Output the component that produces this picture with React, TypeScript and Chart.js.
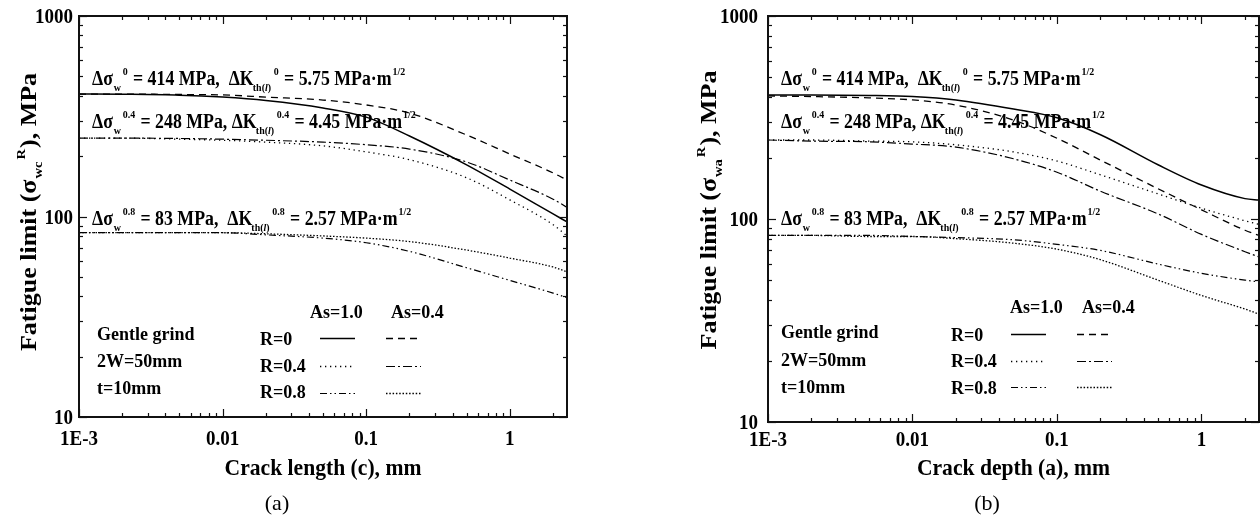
import React, { useEffect, useRef } from "react";
import { Chart, registerables } from "chart.js";

Chart.register(...registerables);

// ---------------- data ----------------
const crackSize = [0.001, 0.002, 0.005, 0.01, 0.02, 0.05, 0.1, 0.2, 0.5, 1, 2, 2.5];

// (a) crack length c
const lengthR0As10 = [408, 407, 403, 394, 379, 348, 313, 252, 181, 137, 103, 94];
const lengthR04As10 = [246, 246, 243, 240, 235, 225, 210, 192, 156, 121, 91, 80];
const lengthR08As10 = [83, 83, 83, 83, 81, 78, 74, 67, 55.5, 48, 41.5, 39.4];
const lengthR0As04 = [408, 408, 406, 404, 394, 381, 360, 328, 255, 205, 165, 152];
const lengthR04As04 = [246, 246, 245, 243, 240, 235, 228, 217, 187, 152, 122, 111];
const lengthR08As04 = [83, 83, 83, 83, 82, 80, 78, 75, 68, 62, 56, 53];

// (b) crack depth a
const depthR0As10 = [408, 408, 406, 401, 386, 348, 315, 260, 185, 147, 126, 124];
const depthR04As10 = [245, 245, 242, 240, 232, 214, 193, 165, 133, 113, 98, 94];
const depthR08As10 = [83, 83, 83, 82, 81, 79, 75, 70, 60, 54, 50, 49];
const depthR0As04 = [404, 401, 395, 386, 364, 307, 250, 195, 141, 111, 88, 83];
const depthR04As04 = [245, 242, 240, 234, 226, 198, 170, 137, 106, 84, 69, 65];
const depthR08As04 = [83, 83, 82, 82, 80, 76, 71, 63, 50, 42, 36, 34];

const xTickValues = [0.001, 0.01, 0.1, 1];
const xTickLabels = ["1E-3", "0.01", "0.1", "1"];
const yTickValues = [10, 100, 1000];
const yTickLabels = ["10", "100", "1000"];

const stressRatios = ["0", "0.4", "0.8"];
const fatigueLimits = ["414", "248", "83"];
const thresholds = ["5.75", "4.45", "2.57"];
const legendRows = ["R=0", "R=0.4", "R=0.8"];
const legendCols = ["As=1.0", "As=0.4"];
const conditionLines = ["Gentle grind", "2W=50mm", "t=10mm"];

// ---------------- styles ----------------
const FONT = "'Liberation Serif', 'Times New Roman', serif";
const INK = "#000";

// order: R0 As1.0, R0.4 As1.0, R0.8 As1.0, R0 As0.4, R0.4 As0.4, R0.8 As0.4
const seriesStyles = [
  { dash: [] as number[], width: 1.5 },
  { dash: [1.3, 3.7], width: 1.3 },
  { dash: [7, 3, 1.5, 3, 1.5, 3], width: 1.2 },
  { dash: [7, 5], width: 1.3 },
  { dash: [9, 3, 2, 3], width: 1.2 },
  { dash: [1.5, 1.8], width: 1.3 },
];

type Seg = { t: string; k?: "b" | "p"; i?: boolean; dx?: number };
type TextOpts = { sx?: number; align?: "left" | "center" | "right"; rotate?: boolean; weight?: string };

function segFont(s: Seg, size: number, weight: string) {
  const fs = s.k ? size * 0.56 : size;
  return `${s.i ? "italic " : ""}${weight} ${fs}px ${FONT}`;
}

function drawText(ctx: CanvasRenderingContext2D, segs: Seg[], x: number, y: number, size: number, o: TextOpts = {}) {
  const sx = o.sx ?? 1;
  const weight = o.weight ?? "bold";
  ctx.save();
  ctx.translate(x, y);
  ctx.scale(sx, 1);
  if (o.rotate) ctx.rotate(-Math.PI / 2);
  ctx.textBaseline = "alphabetic";
  ctx.textAlign = "left";
  ctx.fillStyle = INK;
  let w = 0;
  for (const s of segs) {
    ctx.font = segFont(s, size, weight);
    w += ctx.measureText(s.t).width + (s.dx ?? 0);
  }
  let cx = o.align === "center" ? -w / 2 : o.align === "right" ? -w : 0;
  for (const s of segs) {
    ctx.font = segFont(s, size, weight);
    cx += s.dx ?? 0;
    const dy = s.k === "b" ? size * 0.28 : s.k === "p" ? -size * 0.5 : 0;
    ctx.fillText(s.t, cx, dy);
    cx += ctx.measureText(s.t).width;
  }
  ctx.restore();
}

function annotationSegs(r: number): Seg[] {
  const gap = r === 1 ? " " : "  ";
  return [
    { t: "Δσ" },
    { t: "w", k: "b", dx: 1 },
    { t: stressRatios[r], k: "p", dx: 2 },
    { t: ` = ${fatigueLimits[r]} MPa,${gap}ΔK`, dx: 1 },
    { t: "th(", k: "b", dx: -1 },
    { t: "l", k: "b", i: true },
    { t: ")", k: "b" },
    { t: stressRatios[r], k: "p", dx: 3 },
    { t: ` = ${thresholds[r]} MPa·m`, dx: 1 },
    { t: "1/2", k: "p", dx: 1 },
  ];
}

type PanelCfg = {
  offset: number;
  padding: { left: number; right: number; top: number; bottom: number };
  series: number[][];
  xTitle: string;
  ySub: string;
  yTitleX: number;
  yTitleY: number;
  yLabelGap: number;
  xLabelBase: number;
  xTitleBase: number;
  caption: string;
  captionX: number;
  annotX: number;
  annotBase: number[];
  condX: number;
  condBase: number[];
  headX: number[];
  headBase: number;
  rowX: number;
  rowBase: number[];
  sampleX: number[];
  sampleY: number[];
};

const panelA: PanelCfg = {
  offset: 0,
  padding: { left: 79, right: 63, top: 16, bottom: 104 },
  series: [lengthR0As10, lengthR04As10, lengthR08As10, lengthR0As04, lengthR04As04, lengthR08As04],
  xTitle: "Crack length (c), mm",
  ySub: "wc",
  yTitleX: 36,
  yTitleY: 212,
  yLabelGap: 6,
  xLabelBase: 445,
  xTitleBase: 475,
  caption: "(a)",
  captionX: 277,
  annotX: 92,
  annotBase: [85, 128, 225],
  condX: 97,
  condBase: [340, 367, 394],
  headX: [310, 391],
  headBase: 318,
  rowX: 260,
  rowBase: [345, 372, 398],
  sampleX: [320, 386],
  sampleY: [338, 366, 393],
};

const panelB: PanelCfg = {
  offset: 630,
  padding: { left: 138, right: 1, top: 16, bottom: 99 },
  series: [depthR0As10, depthR04As10, depthR08As10, depthR0As04, depthR04As04, depthR08As04],
  xTitle: "Crack depth (a), mm",
  ySub: "wa",
  yTitleX: 86,
  yTitleY: 210,
  yLabelGap: 10,
  xLabelBase: 446,
  xTitleBase: 475,
  caption: "(b)",
  captionX: 357,
  annotX: 151,
  annotBase: [85, 128, 225],
  condX: 151,
  condBase: [338, 366, 393],
  headX: [380, 452],
  headBase: 313,
  rowX: 321,
  rowBase: [341, 367, 394],
  sampleX: [381, 447],
  sampleY: [334, 361, 387],
};

function decorPlugin(cfg: PanelCfg) {
  return {
    id: "decor",
    beforeDraw(chart: any) {
      const ctx = chart.ctx as CanvasRenderingContext2D;
      ctx.save();
      ctx.fillStyle = "#fff";
      ctx.fillRect(0, 0, chart.width, chart.height);
      ctx.restore();
    },
    afterDatasetsDraw(chart: any) {
      const ctx = chart.ctx as CanvasRenderingContext2D;
      const { left, right, top, bottom } = chart.chartArea;
      const xs = chart.scales.x;
      const ys = chart.scales.y;
      ctx.save();
      ctx.strokeStyle = "#111";
      ctx.lineWidth = 1.2;
      ctx.setLineDash([]);
      const seg = (x1: number, y1: number, x2: number, y2: number) => {
        ctx.beginPath();
        ctx.moveTo(x1, y1);
        ctx.lineTo(x2, y2);
        ctx.stroke();
      };
      // x ticks (inward, bottom and top)
      for (let e = Math.floor(Math.log10(xs.min) + 1e-9); e <= Math.floor(Math.log10(xs.max)); e++) {
        for (let k = 1; k <= 9; k++) {
          const v = k * Math.pow(10, e);
          if (v < xs.min * 0.999 || v > xs.max * 1.001) continue;
          const px = Math.round(xs.getPixelForValue(v)) + 0.5;
          const len = k === 1 ? 8 : 4;
          seg(px, bottom, px, bottom - len);
          seg(px, top, px, top + len);
        }
      }
      // y ticks (inward, left and right)
      for (let e = Math.floor(Math.log10(ys.min) + 1e-9); e <= Math.floor(Math.log10(ys.max) + 1e-9); e++) {
        for (let k = 1; k <= 9; k++) {
          const v = k * Math.pow(10, e);
          if (v < ys.min * 0.999 || v > ys.max * 1.001) continue;
          const py = Math.round(ys.getPixelForValue(v)) + 0.5;
          const len = k === 1 ? 8 : 4;
          seg(left, py, left + len, py);
          seg(right, py, right - len, py);
        }
      }
      // frame
      ctx.lineWidth = 2;
      ctx.strokeRect(left, top, right - left, bottom - top);

      // tick labels
      xTickValues.forEach((v, i) => {
        drawText(ctx, [{ t: xTickLabels[i] }], xs.getPixelForValue(v), cfg.xLabelBase, 20, { sx: 0.95, align: "center" });
      });
      yTickValues.forEach((v, i) => {
        drawText(ctx, [{ t: yTickLabels[i] }], left - cfg.yLabelGap, ys.getPixelForValue(v) + 7, 20, { sx: 0.95, align: "right" });
      });
      // axis titles
      drawText(ctx, [{ t: cfg.xTitle }], (left + right) / 2, cfg.xTitleBase, 24, { sx: 0.9, align: "center" });
      drawText(
        ctx,
        [{ t: "Fatigue limit (σ" }, { t: cfg.ySub, k: "b", dx: 1 }, { t: "R", k: "p", dx: 2 }, { t: "), MPa", dx: 1 }],
        cfg.yTitleX,
        cfg.yTitleY,
        26,
        { sx: 0.85, rotate: true, align: "center" }
      );
      // caption
      drawText(ctx, [{ t: cfg.caption }], cfg.captionX, 510, 22, { weight: "normal", align: "center" });

      // annotations
      for (let r = 0; r < 3; r++) {
        drawText(ctx, annotationSegs(r), cfg.annotX, cfg.annotBase[r], 20, { sx: 0.89 });
      }
      // conditions
      conditionLines.forEach((t, i) => drawText(ctx, [{ t }], cfg.condX, cfg.condBase[i], 18));
      // legend
      legendCols.forEach((t, c) => drawText(ctx, [{ t }], cfg.headX[c], cfg.headBase, 18));
      legendRows.forEach((t, r) => drawText(ctx, [{ t }], cfg.rowX, cfg.rowBase[r], 18));
      for (let c = 0; c < 2; c++) {
        for (let r = 0; r < 3; r++) {
          const ds = chart.data.datasets[c * 3 + r];
          ctx.strokeStyle = INK;
          ctx.lineWidth = ds.borderWidth;
          ctx.setLineDash(ds.borderDash || []);
          seg(cfg.sampleX[c], cfg.sampleY[r] + 0.5, cfg.sampleX[c] + 35, cfg.sampleY[r] + 0.5);
        }
      }
      ctx.restore();
    },
  };
}

function Panel({ cfg }: { cfg: PanelCfg }) {
  const ref = useRef<HTMLCanvasElement>(null);
  useEffect(() => {
    const canvas = ref.current!;
    const chart = new Chart(canvas, {
      type: "line",
      data: {
        datasets: cfg.series.map((arr, i) => ({
          data: crackSize.map((x, j) => ({ x, y: arr[j] })),
          borderColor: INK,
          borderWidth: seriesStyles[i].width,
          borderDash: seriesStyles[i].dash,
          pointRadius: 0,
          fill: false,
          cubicInterpolationMode: "monotone" as const,
        })),
      },
      options: {
        responsive: false,
        animation: false,
        devicePixelRatio: 1,
        events: [],
        layout: { padding: cfg.padding },
        plugins: { legend: { display: false }, tooltip: { enabled: false }, title: { display: false } },
        scales: {
          x: { type: "logarithmic", min: 0.001, max: 2.5, display: false },
          y: { type: "logarithmic", min: 10, max: 1000, display: false },
        },
      },
      plugins: [decorPlugin(cfg)],
    });
    return () => chart.destroy();
  }, [cfg]);
  return (
    <canvas
      ref={ref}
      width={630}
      height={521}
      style={{ position: "absolute", left: cfg.offset, top: 0, width: 630, height: 521 }}
    />
  );
}

export default function App() {
  return (
    <div style={{ position: "absolute", left: 0, top: 0, width: 1260, height: 521, background: "#fff", overflow: "hidden" }}>
      <Panel cfg={panelA} />
      <Panel cfg={panelB} />
    </div>
  );
}
